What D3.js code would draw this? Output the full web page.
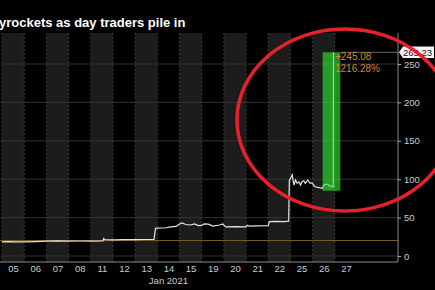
<!DOCTYPE html>
<html>
<head>
<meta charset="utf-8">
<script src="https://cdn.jsdelivr.net/npm/d3@7"></script>
<style>
  html, body { margin: 0; padding: 0; background: #000; }
  svg { display: block; }
  text { font-family: "Liberation Sans", Arial, sans-serif; }
</style>
</head>
<body>
<svg id="chart" width="435" height="290"></svg>
<script>
const title = "yrockets as day traders pile in";
const days = ["05", "06", "07", "08", "11", "12", "13", "14", "15", "19", "20", "21", "22", "25", "26", "27"];
const monthLabel = "Jan 2021";
const yTicks = [0, 50, 100, 150, 200, 250];

// intraday price, t = trading day index (fraction of the session)
const priceT = [
  0.00, 0.30, 0.60, 1.00, 1.50, 2.00, 2.50, 3.00, 3.50, 4.00,
  4.55, 4.58, 4.65, 5.00, 5.50, 6.00, 6.50, 6.85, 6.92, 7.00,
  7.40, 7.60, 7.85, 8.00, 8.12, 8.28, 8.48, 8.68, 8.85, 9.00,
  9.10, 9.30, 9.50, 9.80, 9.95, 10.08, 10.50, 11.00, 11.05, 11.15,
  11.50, 12.00, 12.05, 12.40, 12.70, 12.92, 12.95, 13.08, 13.16, 13.23,
  13.30, 13.38, 13.45, 13.52, 13.60, 13.67, 13.78, 13.88, 13.96, 14.10,
  14.30, 14.45, 14.50, 14.65, 14.80, 14.93, 14.94
];
const priceV = [
  18.3, 18.6, 18.4, 18.5, 18.8, 19.4, 19.6, 19.3, 19.5, 19.4,
  19.6, 22.8, 21.3, 21.0, 21.2, 21.4, 21.5, 21.6, 36.0, 36.3,
  36.8, 37.8, 38.5, 41.7, 43.0, 41.0, 40.4, 41.7, 39.5, 39.8,
  41.7, 41.5, 39.0, 40.4, 41.7, 38.0, 38.2, 38.0, 40.0, 39.0,
  39.3, 39.5, 44.7, 45.2, 44.8, 45.3, 98.0, 105.5, 92.4, 99.0,
  94.6, 96.8, 92.4, 96.8, 98.0, 94.6, 99.0, 94.6, 95.4, 90.2,
  89.0, 88.0, 92.4, 93.7, 91.0, 90.2, 265.23
];

const refLevel = 20.15;
const lastPrice = 265.23;
const changeAbs = "+245.08";
const changePct = "1216.28%";

// highlighted move (green box)
const boxT = [14.45, 15.25];
const boxV = [85, 265.23];

// red ring drawn over the chart
const ringT = 15.45, ringV = 177, ringRT = 4.86, ringRV = 118.5;

const svg = d3.select("#chart");
const plotLeft = 0, plotRight = 398, plotTop = 33, plotBottom = 262;

const x = d3.scaleLinear().domain([0, 16]).range([2, 357]);
const y = d3.scaleLinear().domain([0, 250]).range([256, 64]);

// alternating day bands
const bands = d3.range(0, days.length, 2);
svg.selectAll(".band")
  .data(bands)
  .enter()
  .append("rect")
  .attr("class", "band")
  .attr("x", (d) => x(d))
  .attr("y", plotTop)
  .attr("width", (d) => x(d + 1) - x(d))
  .attr("height", plotBottom - plotTop)
  .attr("fill", "#1c1c1c");

svg.selectAll(".band-edge")
  .data(bands.flatMap((d) => [d, d + 1]))
  .enter()
  .append("line")
  .attr("class", "band-edge")
  .attr("x1", (d) => x(d))
  .attr("x2", (d) => x(d))
  .attr("y1", plotTop)
  .attr("y2", plotBottom)
  .attr("stroke", "#3a3a3a")
  .attr("stroke-dasharray", "2,2");

// title (cut off at the left like the original)
svg.append("text")
  .attr("x", -1)
  .attr("y", 27)
  .attr("fill", "#fff")
  .attr("font-weight", "bold")
  .attr("font-size", 13)
  .text(title);

// horizontal grid
svg.selectAll(".grid")
  .data(yTicks)
  .enter()
  .append("line")
  .attr("class", "grid")
  .attr("x1", plotLeft)
  .attr("x2", plotRight)
  .attr("y1", (d) => y(d))
  .attr("y2", (d) => y(d))
  .attr("stroke", "#333");

// reference level
svg.append("line")
  .attr("x1", plotLeft)
  .attr("x2", plotRight)
  .attr("y1", y(refLevel))
  .attr("y2", y(refLevel))
  .attr("stroke", "#7d5a22");

// price line
const pts = priceT.map((t, i) => [t, priceV[i]]);
svg.append("path")
  .datum(pts)
  .attr("fill", "none")
  .attr("stroke", "#e4e4dc")
  .attr("stroke-width", 1.2)
  .attr("d", d3.line().x((d) => x(d[0])).y((d) => y(d[1])));

// last price guide
svg.append("line")
  .attr("x1", x(boxT[1]))
  .attr("x2", plotRight)
  .attr("y1", y(lastPrice))
  .attr("y2", y(lastPrice))
  .attr("stroke", "#6d6358");

// green highlight box
svg.append("rect")
  .attr("x", x(boxT[0]))
  .attr("y", y(boxV[1]))
  .attr("width", x(boxT[1]) - x(boxT[0]))
  .attr("height", y(boxV[0]) - y(boxV[1]))
  .attr("fill", "#30f030")
  .attr("fill-opacity", 0.6);

// axes frame
svg.append("line")
  .attr("x1", plotLeft).attr("x2", plotRight)
  .attr("y1", plotBottom).attr("y2", plotBottom)
  .attr("stroke", "#8a8a8a");
svg.append("line")
  .attr("x1", plotRight).attr("x2", plotRight)
  .attr("y1", plotTop).attr("y2", plotBottom)
  .attr("stroke", "#8a8a8a");

const yAxis = svg.append("g")
  .attr("transform", `translate(${plotRight},0)`)
  .call(d3.axisRight(y).tickValues(yTicks).tickSize(3).tickPadding(3));
yAxis.select(".domain").remove();
yAxis.selectAll("line").attr("stroke", "#aaa");
yAxis.selectAll("text").attr("fill", "#ccc").attr("font-size", 9.5)
  .attr("font-family", "Liberation Sans, Arial, sans-serif");

const xAxis = svg.append("g")
  .attr("transform", `translate(0,${plotBottom})`)
  .call(d3.axisBottom(x)
    .tickValues(d3.range(days.length).map((i) => i + 0.5))
    .tickFormat((d) => days[Math.floor(d)])
    .tickSize(0)
    .tickPadding(3));
xAxis.select(".domain").remove();
xAxis.selectAll("text").attr("fill", "#ccc").attr("font-size", 9.5)
  .attr("font-family", "Liberation Sans, Arial, sans-serif");

svg.append("text")
  .attr("x", x(7.5))
  .attr("y", 283.5)
  .attr("text-anchor", "middle")
  .attr("fill", "#ccc")
  .attr("font-size", 9.5)
  .text(monthLabel);

// last price tag
const ly = y(lastPrice);
svg.append("path")
  .attr("d", `M${plotRight + 1},${ly} L${plotRight + 5},${ly - 5.8} H434 V${ly + 5.8} H${plotRight + 5} Z`)
  .attr("fill", "#f4f4f4");
svg.append("text")
  .attr("x", plotRight + 5)
  .attr("y", ly + 3.5)
  .attr("fill", "#111")
  .attr("font-size", 9.5)
  .text(lastPrice.toFixed(2));

// change annotation
const ax = x(priceT[priceT.length - 1]) + 1.5;
svg.append("text")
  .attr("x", ax).attr("y", ly + 8)
  .attr("fill", "#c98a3c").attr("font-size", 10)
  .text(changeAbs);
svg.append("text")
  .attr("x", ax).attr("y", ly + 20)
  .attr("fill", "#c98a3c").attr("font-size", 10)
  .text(changePct);

// red ring
svg.append("ellipse")
  .attr("cx", x(ringT))
  .attr("cy", y(ringV))
  .attr("rx", x(ringT + ringRT) - x(ringT))
  .attr("ry", y(ringV - ringRV) - y(ringV))
  .attr("fill", "none")
  .attr("stroke", "#e8202a")
  .attr("stroke-width", 3.5);
</script>
</body>
</html>
